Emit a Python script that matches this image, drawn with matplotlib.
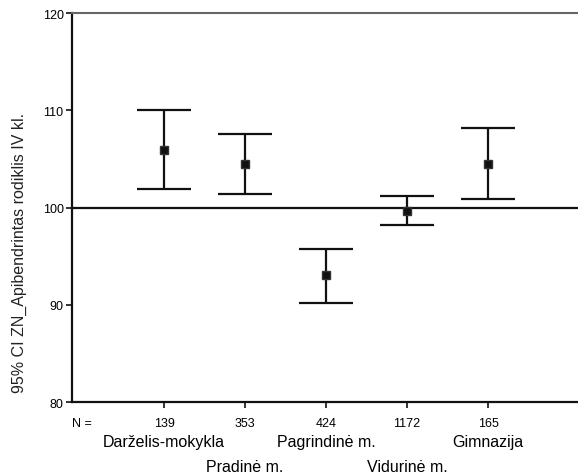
import matplotlib
matplotlib.use("Agg")
import matplotlib.pyplot as plt
import matplotlib.transforms as mtransforms

plt.rcParams['font.family'] = ['Liberation Sans', 'DejaVu Sans']

groups = ["Darželis-mokykla", "Pradinė m.", "Pagrindinė m.", "Vidurinė m.", "Gimnazija"]
counts = ["139", "353", "424", "1172", "165"]
means = [105.95, 104.47, 93.06, 99.69, 104.5]
lower = [101.93, 101.41, 90.18, 98.25, 100.9]
upper = [110.07, 107.53, 95.74, 101.2, 108.15]

xs = list(range(1, len(groups) + 1))

fig = plt.figure(figsize=(5.78, 4.77), dpi=100)
ax = fig.add_axes([0.1246, 0.155, 0.8754, 0.8156])

yerr = [[m - l for m, l in zip(means, lower)], [u - m for m, u in zip(means, upper)]]
ax.errorbar(xs, means, yerr=yerr, fmt='s', color='#111111', ecolor='#111111',
            elinewidth=1.6, capsize=19.5, capthick=1.6, markersize=5.5,
            markeredgecolor='#333333')
ax.axhline(100, color='#111111', lw=1.6)

ax.set_xlim(-0.136, 6.11)
ax.set_ylim(80, 120)
ax.set_yticks([80, 90, 100, 110, 120])
ax.set_xticks(xs)
ax.set_xticklabels([])
ax.tick_params(axis='y', labelsize=9, length=4, width=1.2, color='#111111', pad=2)
ax.tick_params(axis='x', length=4, width=1.2, color='#111111')

ax.spines['right'].set_visible(False)
ax.spines['top'].set_color('#666666')
ax.spines['top'].set_linewidth(1.5)
ax.spines['left'].set_linewidth(1.6)
ax.spines['bottom'].set_linewidth(1.6)
ax.spines['left'].set_color('#111111')
ax.spines['bottom'].set_color('#111111')

ax.set_ylabel("95% CI ZN_Apibendrintas rodiklis IV kl.", fontsize=11.5, color='#222222')
ax.yaxis.set_label_coords(-0.088, 0.385)

trans = mtransforms.blended_transform_factory(ax.transData, fig.transFigure)
fig.text(72 / 578, 1 - 424 / 477, "N =", fontsize=9, va='center', ha='left')
for i, (x, n, g) in enumerate(zip(xs, counts, groups)):
    ax.text(x, 1 - 424 / 477, n, transform=trans, fontsize=9, ha='center', va='center')
    yrow = 443 if i % 2 == 0 else 468
    ax.text(x, 1 - yrow / 477, g, transform=trans, fontsize=11.5, ha='center', va='center')

fig.savefig("out.png", dpi=100)
